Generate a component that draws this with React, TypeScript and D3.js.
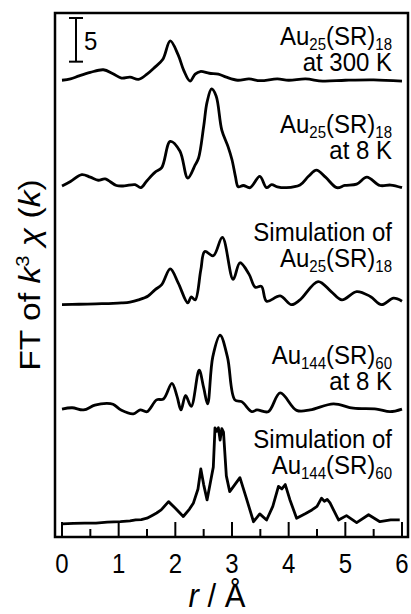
import React, { useEffect, useRef } from "react";
import * as d3 from "d3";

// r in Å, |FT| in the same units as the "5" scale bar, measured from each trace's own baseline
const au25At300K = [
  [0, 0.15], [0.15, 0.3], [0.3, 0.65], [0.5, 1.05], [0.73, 1.35], [0.9, 0.9], [1.05, 0.4], [1.2, 0.5],
  [1.35, 0.25], [1.5, 0.85], [1.64, 1.65], [1.78, 2.55], [1.91, 4.65], [2.05, 3.05], [2.15, 1.25],
  [2.26, 0.05], [2.35, 0.85], [2.44, 1.15], [2.6, 0.95], [2.76, 0.85], [2.9, 0.5], [3.1, 0.15],
  [3.3, 0.3], [3.5, 0.1], [3.8, 0.3], [4.0, 0.15], [4.3, 0.3], [4.6, 0.05], [5.0, 0.15], [5.5, 0.2], [6.0, 0.05],
];
const au25At8K = [
  [0, 0.2], [0.15, 0.7], [0.35, 1.5], [0.5, 1.2], [0.64, 0.85], [0.76, 1.0], [0.96, 0.25], [1.1, 0.2],
  [1.29, 0.35], [1.39, 0], [1.5, 0.8], [1.64, 1.75], [1.76, 2.3], [1.91, 5.3], [2.08, 4.2], [2.22, 1.1],
  [2.35, 2.6], [2.41, 3.4], [2.5, 7.0], [2.56, 9.8], [2.64, 11.3], [2.72, 10.5], [2.82, 6.6], [2.93, 4.7],
  [3.0, 3.2], [3.06, 1.3], [3.11, 0.1], [3.2, 0.25], [3.32, 0], [3.49, 1.3], [3.61, 0], [3.7, 0.35],
  [3.8, 0.1], [3.96, 0], [4.2, 0.3], [4.35, 1.3], [4.49, 2.0], [4.65, 1.2], [4.85, 0], [4.99, 0.25],
  [5.2, 0.4], [5.38, 1.2], [5.61, 0.25], [5.8, 0.3], [6.0, 0],
];
const au25Simulated = [
  [0, 0], [0.3, 0.05], [0.6, 0.1], [0.9, 0.15], [1.05, 0.2], [1.2, 0.3], [1.35, 0.55], [1.52, 1.0],
  [1.64, 1.7], [1.76, 2.3], [1.91, 4.1], [2.05, 2.5], [2.22, 0.2], [2.28, 0.9], [2.35, 0.55], [2.45, 4.0],
  [2.52, 6.1], [2.67, 5.6], [2.83, 7.7], [3.02, 2.9], [3.14, 4.8], [3.3, 3.5], [3.41, 2.0], [3.52, 2.1],
  [3.61, 0.4], [3.85, 1.0], [4.05, 0], [4.2, 0.55], [4.52, 2.65], [4.75, 1.5], [4.94, 0.55], [5.2, 1.5],
  [5.44, 0.95], [5.64, 0], [5.85, 0.75], [6.0, 0.4],
];
const au144At8K = [
  [0, 0.55], [0.18, 0.7], [0.38, 0.45], [0.58, 1.0], [0.79, 1.2], [0.9, 1.1], [1.05, 0.4], [1.26, 0],
  [1.38, 0.45], [1.5, 0.25], [1.67, 1.6], [1.79, 1.7], [1.94, 3.5], [2.03, 2.0], [2.1, 0.45], [2.18, 2.1],
  [2.28, 0.85], [2.42, 5.0], [2.5, 3.0], [2.57, 1.15], [2.66, 6.5], [2.79, 9.0], [2.92, 6.5], [3.05, 1.6],
  [3.17, 1.4], [3.35, 0.25], [3.44, 0.45], [3.64, 0.25], [3.85, 2.4], [4.14, 0.4], [4.38, 0.45],
  [4.79, 1.15], [5.14, 0.65], [5.55, 0.55], [5.79, 0.25], [6.0, 0.55],
];
const au144Simulated = [
  [0, 0], [0.2, 0.05], [0.4, 0.1], [0.6, 0.1], [0.8, 0.2], [1.03, 0.25], [1.2, 0.35], [1.3, 0.45],
  [1.4, 0.5], [1.5, 0.65], [1.6, 1.0], [1.67, 1.25], [1.75, 1.6], [1.88, 2.55], [2.0, 1.8], [2.14, 0.85],
  [2.25, 1.7], [2.32, 2.4], [2.4, 4.0], [2.45, 6.3], [2.5, 4.5], [2.56, 2.75], [2.62, 4.8], [2.67, 6.5],
  [2.7, 11.0], [2.73, 10.6], [2.76, 11.0], [2.79, 9.6], [2.82, 10.9], [2.85, 10.5], [2.9, 5.5],
  [2.96, 3.7], [3.05, 4.5], [3.14, 5.3], [3.25, 3.0], [3.38, 0.25], [3.49, 1.15], [3.61, 0.45],
  [3.72, 2.0], [3.82, 4.3], [3.88, 4.0], [3.94, 4.5], [4.02, 2.8], [4.14, 0.65], [4.3, 1.2], [4.41, 1.6],
  [4.5, 2.0], [4.58, 2.95], [4.63, 2.6], [4.68, 2.8], [4.73, 2.4], [4.88, 0.45], [5.02, 0.95],
  [5.2, 0.15], [5.41, 1.05], [5.61, 0.25], [5.8, 0.45], [5.96, 0.45],
];

const traces = [au25At300K, au25At8K, au25Simulated, au144At8K, au144Simulated];
const traceOffsets = [52.15, 40.0, 26.6, 14.1, 1.5];
const smoothTraces = [true, true, true, true, false];

// label lines: [text, "sub" | "n"]
const traceLabels = [
  [[["Au", "n"], ["25", "sub"], ["(SR)", "n"], ["18", "sub"]], [["at 300 K", "n"]]],
  [[["Au", "n"], ["25", "sub"], ["(SR)", "n"], ["18", "sub"]], [["at 8 K", "n"]]],
  [[["Simulation of", "n"]], [["Au", "n"], ["25", "sub"], ["(SR)", "n"], ["18", "sub"]]],
  [[["Au", "n"], ["144", "sub"], ["(SR)", "n"], ["60", "sub"]], [["at 8 K", "n"]]],
  [[["Simulation of", "n"]], [["Au", "n"], ["144", "sub"], ["(SR)", "n"], ["60", "sub"]]],
];

const xTicks = [0, 1, 2, 3, 4, 5, 6];
const xMinorTicks = [0.5, 1.5, 2.5, 3.5, 4.5, 5.5];
const scaleBarValue = 5;

const FONT = "Arial, 'Liberation Sans', sans-serif";

export default function App() {
  const ref = useRef<SVGSVGElement>(null);

  useEffect(() => {
    const svg = d3.select(ref.current);
    svg.selectAll("*").remove();

    const frame = { left: 55, top: 13, right: 408, bottom: 537 };
    const x = d3.scaleLinear().domain([0, 6]).range([62, 402]);
    const y = d3.scaleLinear().domain([0, 60]).range([frame.bottom, frame.top]);

    // traces
    traces.forEach((pts, i) => {
      const line = d3.line<number[]>()
        .x(d => x(d[0]))
        .y(d => y(d[1] + traceOffsets[i]))
        .curve(smoothTraces[i] ? d3.curveCatmullRom.alpha(0.5) : d3.curveLinear);
      svg.append("path")
        .attr("d", line(pts))
        .attr("fill", "none")
        .attr("stroke", "#000")
        .attr("stroke-width", 2.8)
        .attr("stroke-linejoin", "round");
    });

    // frame
    svg.append("rect")
      .attr("x", frame.left).attr("y", frame.top)
      .attr("width", frame.right - frame.left).attr("height", frame.bottom - frame.top)
      .attr("fill", "none").attr("stroke", "#000").attr("stroke-width", 2.5);

    // inward ticks on the bottom
    const ticks = svg.append("g").attr("stroke", "#000").attr("stroke-width", 2);
    xTicks.forEach(t => {
      ticks.append("line").attr("x1", x(t)).attr("x2", x(t)).attr("y1", frame.bottom).attr("y2", frame.bottom - 15);
    });
    xMinorTicks.forEach(t => {
      ticks.append("line").attr("x1", x(t)).attr("x2", x(t)).attr("y1", frame.bottom).attr("y2", frame.bottom - 8);
    });

    xTicks.forEach(t => {
      svg.append("text")
        .attr("transform", `translate(${x(t)},573) scale(1,1.12)`)
        .attr("text-anchor", "middle")
        .style("font-family", FONT).style("font-size", "24px")
        .text(t);
    });

    const xTitle = svg.append("text")
      .attr("transform", `translate(217,607) scale(1,1.08)`)
      .attr("text-anchor", "middle")
      .style("font-family", FONT).style("font-size", "31px");
    xTitle.append("tspan").style("font-style", "italic").text("r");
    xTitle.append("tspan").text(" / Å");

    const yTitle = svg.append("text")
      .attr("transform", `translate(40,275) rotate(-90) scale(1.12,1)`)
      .attr("text-anchor", "middle")
      .style("font-family", FONT).style("font-size", "30px");
    yTitle.append("tspan").text("FT of ");
    yTitle.append("tspan").style("font-style", "italic").text("k");
    yTitle.append("tspan").attr("dy", -11).style("font-size", "18px").text("3");
    yTitle.append("tspan").attr("dy", 11).text(" ");
    yTitle.append("tspan").style("font-style", "italic").text("χ");
    yTitle.append("tspan").text(" (");
    yTitle.append("tspan").style("font-style", "italic").text("k");
    yTitle.append("tspan").text(")");

    // scale bar
    const barX = 76;
    const barTop = 18;
    const barBottom = barTop + (y(0) - y(scaleBarValue));
    const bar = svg.append("g").attr("stroke", "#000").attr("stroke-width", 2);
    bar.append("line").attr("x1", barX).attr("x2", barX).attr("y1", barTop).attr("y2", barBottom);
    bar.append("line").attr("x1", barX - 7).attr("x2", barX + 7).attr("y1", barTop).attr("y2", barTop);
    bar.append("line").attr("x1", barX - 7).attr("x2", barX + 7).attr("y1", barBottom).attr("y2", barBottom);
    svg.append("text")
      .attr("transform", `translate(84,50) scale(1,1.1)`)
      .style("font-family", FONT).style("font-size", "24px")
      .text(scaleBarValue);

    // trace labels
    const labelBaselines = [45, 133, 241, 364, 448];
    traceLabels.forEach((lines, i) => {
      lines.forEach((segs, j) => {
        const t = svg.append("text")
          .attr("transform", `translate(392,${labelBaselines[i] + j * 26}) scale(1,1.04)`)
          .attr("text-anchor", "end")
          .style("font-family", FONT).style("font-size", "24px");
        let shift = 0;
        segs.forEach(([s, kind]) => {
          const want = kind === "sub" ? 5 : 0;
          const ts = t.append("tspan").attr("dy", want - shift).text(s);
          if (kind === "sub") ts.style("font-size", "15px");
          shift = want;
        });
      });
    });
  }, []);

  return (
    <svg
      ref={ref}
      width={411}
      height={614}
      style={{ position: "absolute", left: 0, top: 0, background: "#fff" }}
    />
  );
}
